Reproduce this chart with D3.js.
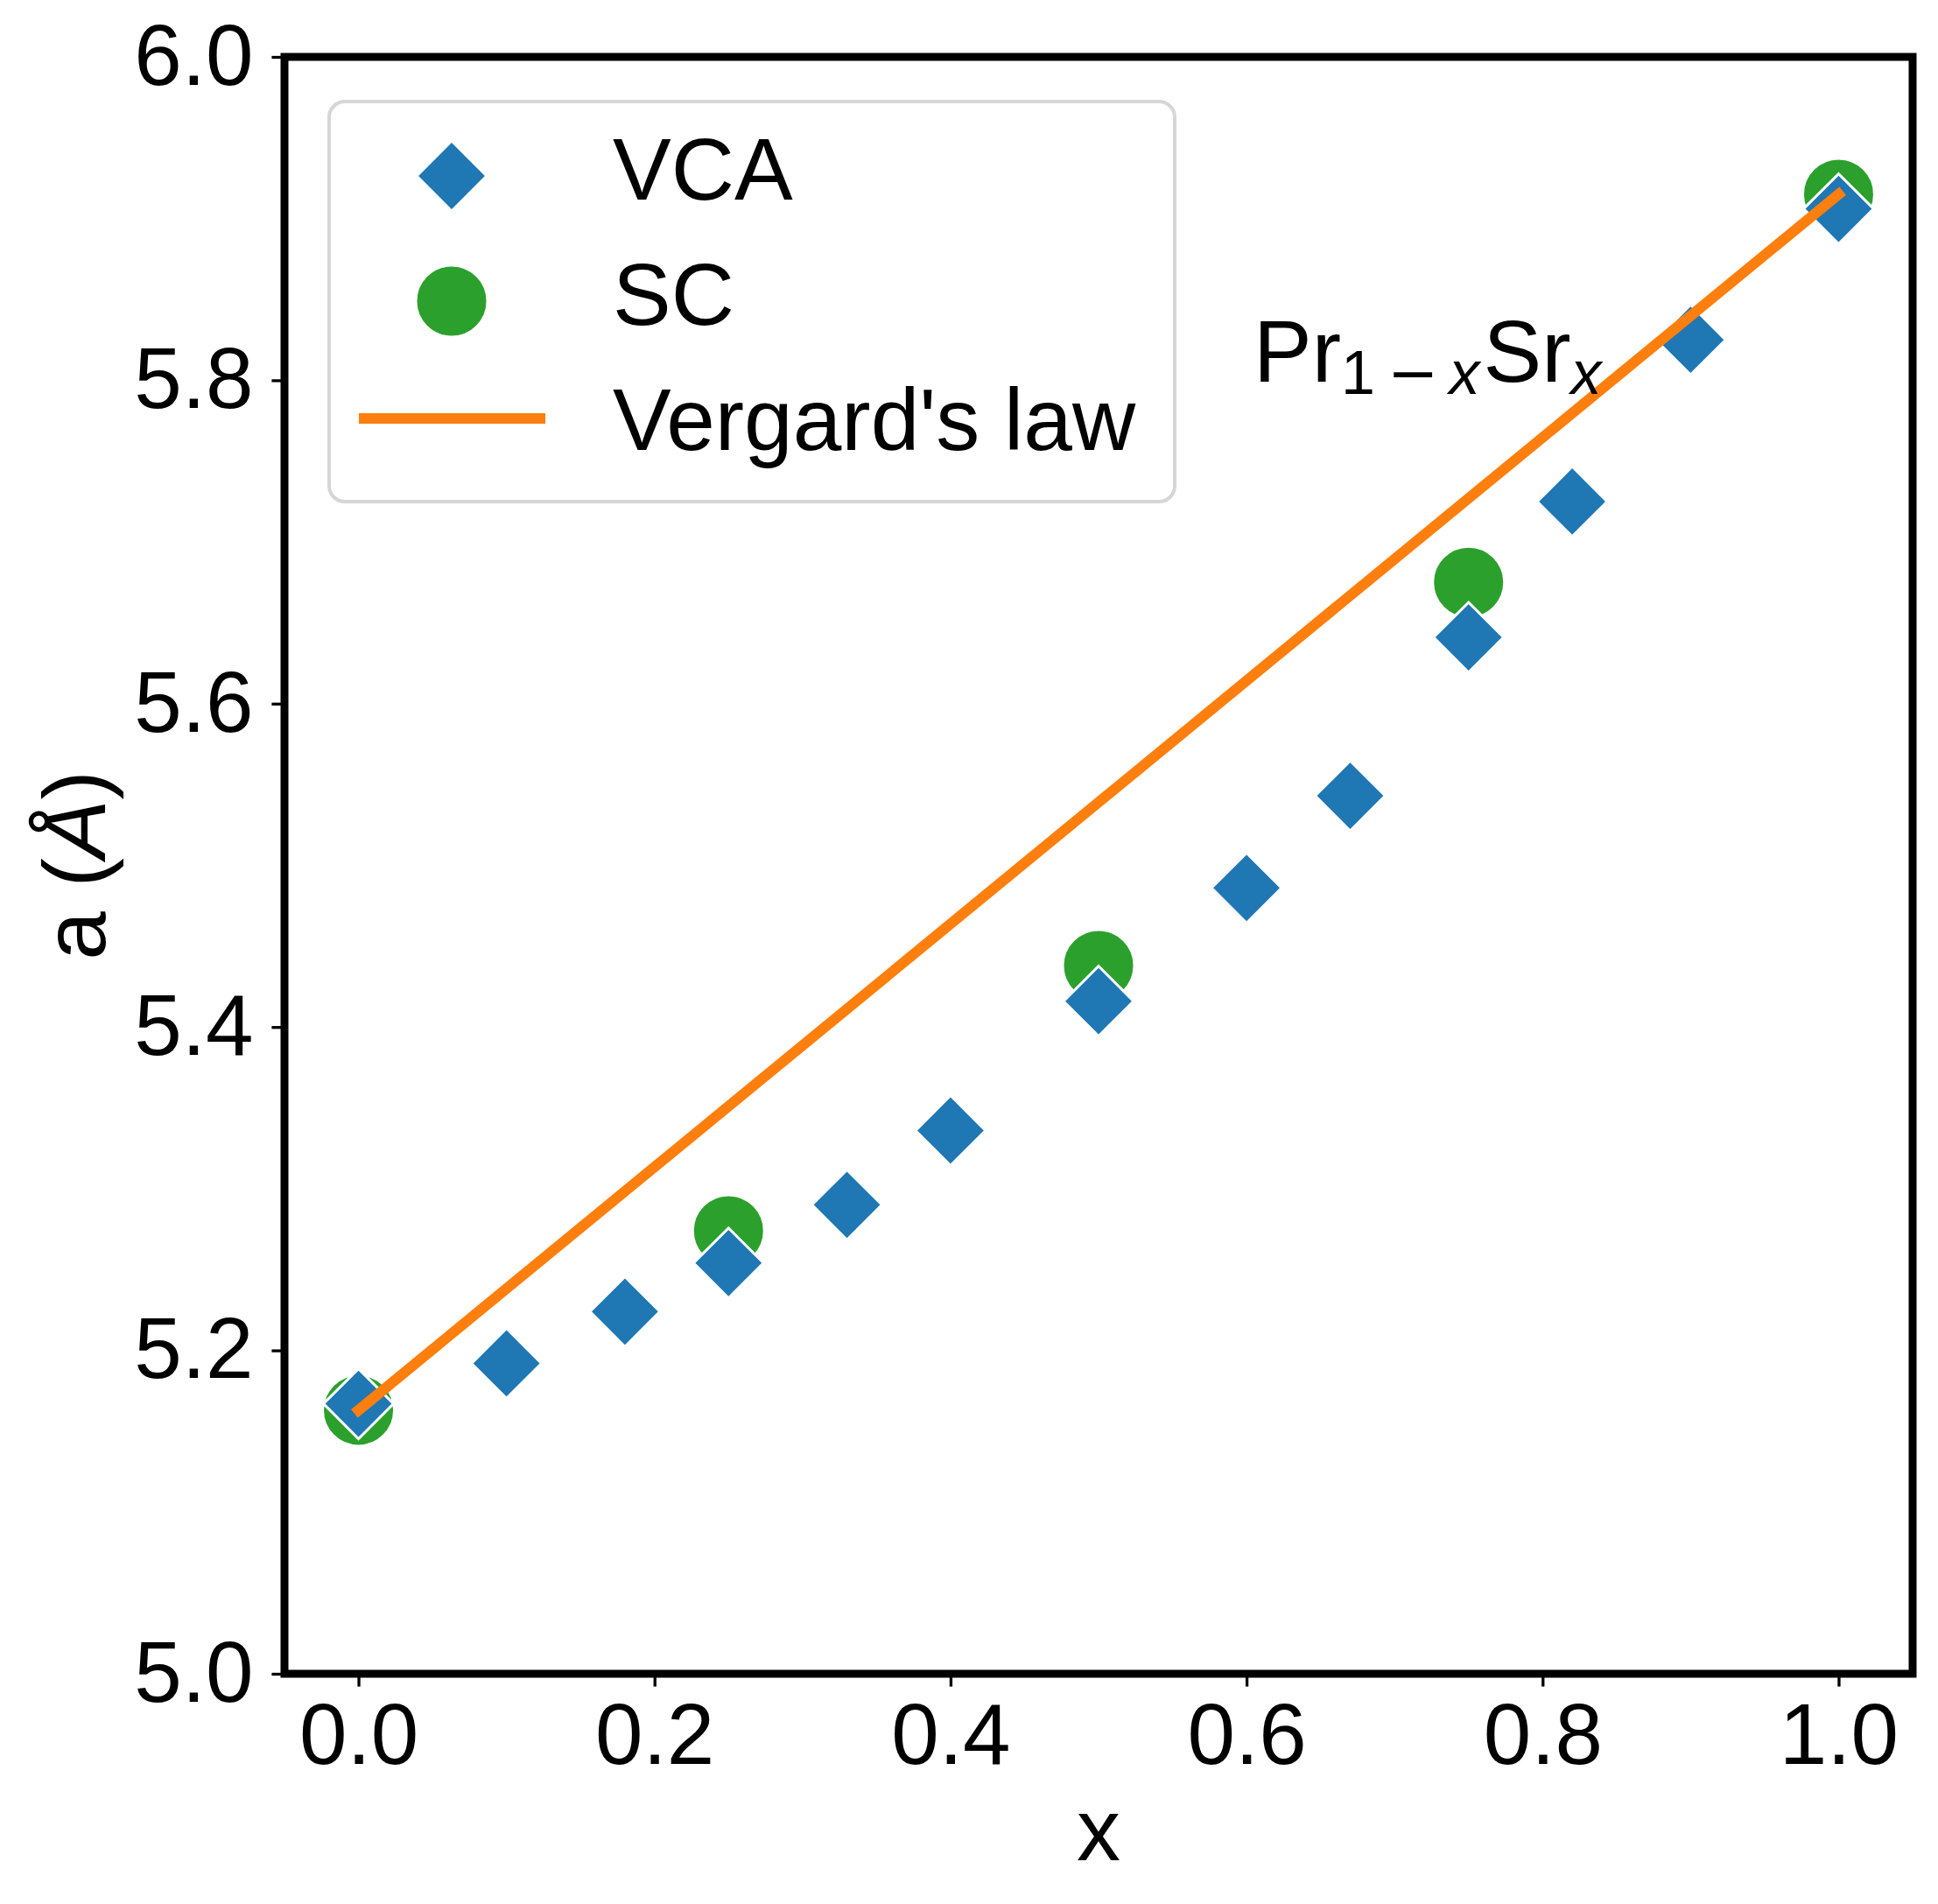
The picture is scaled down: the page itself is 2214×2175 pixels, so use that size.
<!DOCTYPE html>
<html>
<head>
<meta charset="utf-8">
<script src="https://cdn.jsdelivr.net/npm/d3@7"></script>
<style>
  html, body { margin: 0; padding: 0; background: #fff; }
  svg { display: block; font-family: "Liberation Sans", Arial, Helvetica, sans-serif; }
  .tick text { fill: #000; }
</style>
</head>
<body>
<div id="chart"></div>
<script>
/* Pr(1-x)Sr(x) lattice constant vs x — VCA, SC and Vegard's line */

// ──────────────  data

const vcaX = [0, 0.1, 0.18, 0.25, 0.33, 0.4, 0.5, 0.6, 0.67, 0.75, 0.82, 0.9, 1.0];
const vcaA = [5.167, 5.192, 5.224, 5.254, 5.290, 5.336, 5.416, 5.486, 5.543, 5.641, 5.725, 5.825, 5.906];

const scX = [0, 0.25, 0.5, 0.75, 1.0];
const scA = [5.163, 5.274, 5.438, 5.675, 5.915];

const vegardX = [0, 1];
const vegardA = [5.163, 5.915];

const xTicks = [0, 0.2, 0.4, 0.6, 0.8, 1.0];
const yTicks = [5.0, 5.2, 5.4, 5.6, 5.8, 6.0];

const legendLabels = ['VCA', 'SC', "Vergard's law"];

// ──────────────  layout

const W = 2214, H = 2175;
const M = { left: 325, right: 2185, top: 65, bottom: 1912 };
const C = { vca: '#1f77b4', sc: '#2ca02c', vegard: '#ff7f0e' };

const zip = (xs, ys) => xs.map((x, i) => ({ x, a: ys[i] }));

const svg = d3.select('#chart').append('svg')
  .attr('width', W).attr('height', H)
  .attr('viewBox', `0 0 ${W} ${H}`);

svg.append('rect').attr('width', W).attr('height', H).attr('fill', '#fff');

const x = d3.scaleLinear().domain([-0.05, 1.05]).range([M.left, M.right]);
const y = d3.scaleLinear().domain([5.0, 6.0]).range([M.bottom, M.top]);

// ──────────────  axes

const xAxis = svg.append('g')
  .attr('transform', `translate(0,${M.bottom})`)
  .call(d3.axisBottom(x).tickValues(xTicks).tickFormat(d3.format('.1f'))
    .tickSizeInner(14.6).tickSizeOuter(0).tickPadding(19));

const yAxis = svg.append('g')
  .attr('transform', `translate(${M.left},0)`)
  .call(d3.axisLeft(y).tickValues(yTicks).tickFormat(d3.format('.1f'))
    .tickSizeInner(14.6).tickSizeOuter(0).tickPadding(21));

[xAxis, yAxis].forEach(ax => {
  ax.select('.domain').remove();
  ax.selectAll('.tick line').attr('stroke', '#000').attr('stroke-width', 3.3);
  ax.selectAll('.tick text').attr('font-size', 98).attr('font-family', null);
});

// ──────────────  marks (circles under diamonds, line on top)

const diamond = d3.symbol().type(d3.symbolSquare).size(3200);

svg.append('g').selectAll('circle')
  .data(zip(scX, scA))
  .join('circle')
  .attr('cx', d => x(d.x))
  .attr('cy', d => y(d.a))
  .attr('r', 41)
  .attr('fill', C.sc)
  .attr('stroke', '#fff')
  .attr('stroke-width', 3);

svg.append('g').selectAll('path')
  .data(zip(vcaX, vcaA))
  .join('path')
  .attr('d', diamond)
  .attr('transform', d => `translate(${x(d.x)},${y(d.a)}) rotate(45)`)
  .attr('fill', C.vca)
  .attr('stroke', '#fff')
  .attr('stroke-width', 3);

svg.append('path')
  .datum(zip(vegardX, vegardA))
  .attr('d', d3.line().x(d => x(d.x)).y(d => y(d.a)))
  .attr('fill', 'none')
  .attr('stroke', C.vegard)
  .attr('stroke-width', 12)
  .attr('stroke-linecap', 'square');

// frame drawn last so it sits on top
svg.append('rect')
  .attr('x', M.left).attr('y', M.top)
  .attr('width', M.right - M.left).attr('height', M.bottom - M.top)
  .attr('fill', 'none').attr('stroke', '#000').attr('stroke-width', 9);

// ──────────────  labels

svg.append('text')
  .attr('x', (M.left + M.right) / 2).attr('y', 2125)
  .attr('text-anchor', 'middle').attr('font-size', 100)
  .text('x');

const yl = svg.append('text')
  .attr('transform', `translate(120,${(M.top + M.bottom) / 2}) rotate(-90)`)
  .attr('text-anchor', 'middle').attr('font-size', 100)
  .style('white-space', 'pre');
yl.append('tspan').text('a (');
yl.append('tspan').attr('font-style', 'italic').text('Å');
yl.append('tspan').text(')');

// Pr_{1-x}Sr_x annotation
const ann = svg.append('text').attr('x', 1432).attr('y', 436).attr('font-size', 100);
ann.append('tspan').text('Pr');
ann.append('tspan').attr('font-size', 70).attr('dy', 14).attr('dx', 0).text('1');
ann.append('tspan').attr('font-size', 70).attr('dx', 14)
  .attr('font-family', '"DejaVu Sans"').text('\u2212');
ann.append('tspan').attr('font-size', 70).attr('dx', 12).attr('font-style', 'italic').text('x');
ann.append('tspan').attr('dy', -14).attr('dx', 4).text('Sr');
ann.append('tspan').attr('font-size', 70).attr('dy', 14).attr('font-style', 'italic').text('x');

// ──────────────  legend

const lg = svg.append('g');
lg.append('rect')
  .attr('x', 376).attr('y', 116).attr('width', 966).attr('height', 457)
  .attr('rx', 18).attr('ry', 18)
  .attr('fill', '#fff').attr('stroke', '#d6d6d6').attr('stroke-width', 4);

const rowY = [201, 344, 478];
const textY = [228, 371, 514];

lg.append('path')
  .attr('d', diamond)
  .attr('transform', `translate(516,${rowY[0]}) rotate(45)`)
  .attr('fill', C.vca).attr('stroke', '#fff').attr('stroke-width', 3);

lg.append('circle')
  .attr('cx', 516).attr('cy', rowY[1]).attr('r', 41)
  .attr('fill', C.sc).attr('stroke', '#fff').attr('stroke-width', 3);

lg.append('line')
  .attr('x1', 416).attr('x2', 617).attr('y1', rowY[2]).attr('y2', rowY[2])
  .attr('stroke', C.vegard).attr('stroke-width', 12).attr('stroke-linecap', 'square');

lg.selectAll('text.lab')
  .data(legendLabels)
  .join('text')
  .attr('class', 'lab')
  .attr('x', 700)
  .attr('y', (_, i) => textY[i])
  .attr('font-size', 100)
  .text(d => d);
</script>
</body>
</html>
